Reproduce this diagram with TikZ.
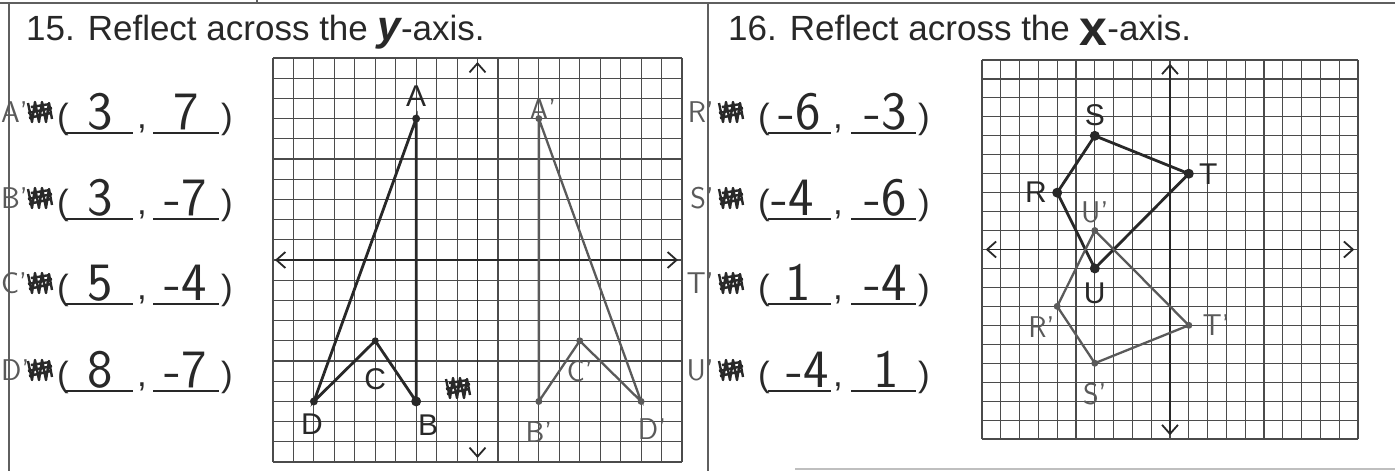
\documentclass[tikz,border=0pt]{standalone}
\usepackage{fontspec}
\setmainfont{Liberation Sans}
\usetikzlibrary{arrows.meta,positioning}
\definecolor{inkgray}{RGB}{40,40,40}
\definecolor{gridgray}{RGB}{75,75,75}
\definecolor{pencil}{RGB}{90,90,90}
\definecolor{framegray}{RGB}{95,95,95}
\tikzset{
  printed/.style={font=\fontsize{35}{40}\selectfont, text=inkgray, inner sep=0pt},
  hand/.style={font=\sffamily\fontsize{54}{58}\selectfont, text=inkgray, inner sep=0pt},
  handlabel/.style={font=\sffamily\fontsize{30}{34}\selectfont, text=pencil, inner sep=0pt},
  ptlabel/.style={font=\fontsize{30}{32}\selectfont, text=inkgray, inner sep=0pt},
  gridline/.style={draw=gridgray, line width=1.1pt},
  axis/.style={{Straight Barb[length=9pt,width=16pt]}-{Straight Barb[length=9pt,width=16pt]}, line width=1.8pt, inkgray},
  figline/.style={line width=2.8pt, inkgray},
  imgline/.style={line width=2.3pt, pencil},
  dot/.style={circle, fill=inkgray, inner sep=0pt, minimum size=10pt},
  imgdot/.style={circle, fill=pencil, inner sep=0pt, minimum size=7pt},
  blank/.style={line width=1.3pt, inkgray},
  scribble/.style={line width=2.4pt, inkgray, line join=round},
  frame/.style={line width=1.6pt, framegray},
}
\newcommand{\scrawlat}[2]{%
  \draw[scribble, shift={(#1,#2)}] (-12,-9) -- (-8,10) -- (-5,-10) -- (-1,10) -- (2,-10) -- (6,10) -- (9,-9) -- (12,7)
    (-12,1) -- (12,-4) (-11,6) -- (11,1) (-9,-5) -- (10,-8);}

\begin{document}
\begin{tikzpicture}[x=1pt,y=-1pt]
\useasboundingbox (0,0) rectangle (1395,471);

% sheet lines
\draw[frame] (0,3) -- (1395,3);
\draw[frame] (257,0) -- (257,4);
\draw[frame] (9,3) -- (9,471);
\draw[frame] (708,3) -- (708,471);
\draw[frame, framegray!40] (795,469) -- (1395,469);

% problem 15
\node[printed, anchor=base west] (title15) at (26,40)
  {15. Reflect across the {\fontsize{42}{42}\selectfont\bfseries\itshape y}-axis.};

\foreach \i/\yy/\lab/\a/\b in {1/112/A/3/7, 2/198/B/3/-7, 3/283/C/5/-4, 4/370/D/8/-7}{
  \node[handlabel, anchor=west] (l\i) at (1,\yy) {\lab'};
  \scrawlat{40}{\yy}
  \node[printed, anchor=base west] (lp\i) at (57,\yy+16) {(};
  \draw[blank] (66,\yy+21) -- (133,\yy+21);
  \node[printed, anchor=base] (lc\i) at (142,\yy+16) {,};
  \draw[blank] (153,\yy+21) -- (219,\yy+21);
  \node[printed, anchor=base west] (lq\i) at (221,\yy+16) {)};
  \node[hand, anchor=base] (la\i) at (100,\yy+17) {\a};
  \node[hand, anchor=base] (lb\i) at (186,\yy+17) {\b};
}

\begin{scope}[shift={(477.5pt,-260pt)}, x=20.45pt, y=20.2pt]
  \draw[gridline, step=1] (-10,-10) grid (10,10);
  \coordinate (xl) at (-9.9,0);
  \coordinate (xr) at (9.8,0);
  \coordinate (yb) at (0,-9.8);
  \coordinate (yt) at (0,9.8);
  \draw[axis] (xl) -- (xr);
  \draw[axis] (yb) -- (yt);
  % original
  \node[dot, minimum size=8pt] (A) at (-3,7) {};
  \node[dot] (B) at (-3,-7) {};
  \node[dot, minimum size=7pt] (C) at (-5,-4) {};
  \node[dot, minimum size=8pt] (D) at (-8,-7) {};
  \draw[figline] (A.center) -- (B.center) -- (C.center) -- (D.center) -- cycle;
  % image
  \node[imgdot] (Ai) at (3,7) {};
  \node[imgdot] (Bi) at (3,-7) {};
  \node[imgdot] (Ci) at (5,-4) {};
  \node[imgdot] (Di) at (8,-7) {};
  \draw[imgline] (Ai.center) -- (Bi.center) -- (Ci.center) -- (Di.center) -- cycle;
  \node[ptlabel, above=8pt of A] (labA) {A};
  \node[ptlabel, below right=10pt and -2pt of B] (labB) {B};
  \node[ptlabel, below left=9pt and -12pt of D] (labD) {D};
  \node[ptlabel, below=24pt of C] (labC) {C};
  \node[handlabel, above right=-4pt and -12pt of Ai] (labAi) {A'};
  \node[handlabel, below=16pt of Bi] (labBi) {B'};
  \node[handlabel, below=16pt of Ci] (labCi) {C'};
  \node[handlabel, below right=14pt and -6pt of Di] (labDi) {D'};
\end{scope}
\scrawlat{458}{388}

% problem 16
\node[printed, anchor=base west] (title16) at (728,40)
  {16. Reflect across the \raisebox{-5pt}{\fontsize{50}{50}\selectfont\bfseries x}-axis.};

\foreach \i/\yy/\lab/\a/\b/\ax in {1/112/R/-6/-3/800, 2/198/S/-4/-6/793, 3/283/T/1/-4/798, 4/370/U/-4/1/808}{
  \node[handlabel, anchor=east] (r\i) at (714,\yy) {\lab'};
  \scrawlat{731}{\yy}
  \node[printed, anchor=base west] (rp\i) at (758,\yy+16) {(};
  \draw[blank] (768,\yy+21) -- (831,\yy+21);
  \node[printed, anchor=base] (rc\i) at (838,\yy+16) {,};
  \draw[blank] (851,\yy+21) -- (916,\yy+21);
  \node[printed, anchor=base west] (rq\i) at (918,\yy+16) {)};
  \node[hand, anchor=base] (ra\i) at (\ax,\yy+17) {\a};
  \node[hand, anchor=base] (rb\i) at (886,\yy+17) {\b};
}

\begin{scope}[shift={(1170pt,-249.5pt)}, x=18.8pt, y=18.95pt]
  \draw[gridline, step=1] (-10,-10) grid (10,10);
  \coordinate (xl2) at (-9.8,0);
  \coordinate (xr2) at (9.8,0);
  \coordinate (yb2) at (0,-9.8);
  \coordinate (yt2) at (0,9.8);
  \draw[axis] (xl2) -- (xr2);
  \draw[axis] (yb2) -- (yt2);
  % original
  \node[dot] (R) at (-6,3) {};
  \node[dot] (S) at (-4,6) {};
  \node[dot] (T) at (1,4) {};
  \node[dot] (U) at (-4,-1) {};
  \draw[figline] (R.center) -- (S.center) -- (T.center) -- (U.center) -- cycle;
  % image
  \node[imgdot] (Ri) at (-6,-3) {};
  \node[imgdot] (Si) at (-4,-6) {};
  \node[imgdot] (Ti) at (1,-4) {};
  \node[imgdot] (Ui) at (-4,1) {};
  \draw[imgline] (Ri.center) -- (Si.center) -- (Ti.center) -- (Ui.center) -- cycle;
  \node[ptlabel, above=5pt of S] (labS) {S};
  \node[ptlabel, left=5pt of R] (labR) {R};
  \node[ptlabel, right=5pt of T] (labT) {T};
  \node[ptlabel, below=9pt of U] (labU) {U};
  \node[handlabel, above=4pt of Ui] (labUi) {U'};
  \node[handlabel, below left=8pt and 0pt of Ri] (labRi) {R'};
  \node[handlabel, below=16pt of Si] (labSi) {S'};
  \node[handlabel, right=10pt of Ti] (labTi) {T'};
\end{scope}
\end{tikzpicture}
\end{document}
